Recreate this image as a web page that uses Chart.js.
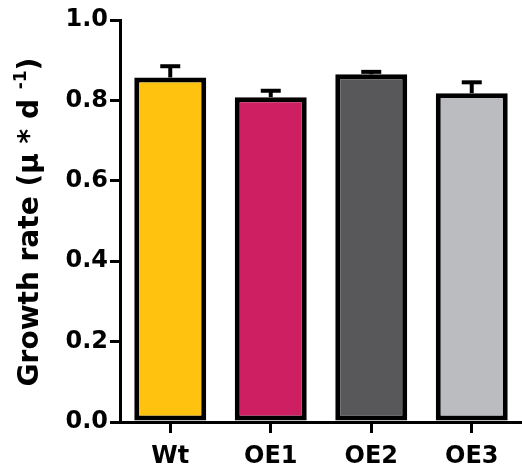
<!DOCTYPE html>
<html>
<head>
<meta charset="utf-8">
<script src="https://cdn.jsdelivr.net/npm/chart.js@4.4.0/dist/chart.umd.min.js"></script>
<style>
  html, body { margin: 0; padding: 0; background: #fff; }
  #wrap { width: 522px; height: 470px; }
</style>
</head>
<body>
<div id="wrap"><canvas id="growthChart"></canvas></div>
<script>
var labels = ['Wt', 'OE1', 'OE2', 'OE3'];
var growthRate = [0.857, 0.808, 0.865, 0.818];
var growthErr = [0.028, 0.016, 0.006, 0.027];
var barColors = ['#FFC20E', '#CE1F63', '#58585A', '#BBBCC0'];
var yTicks = [0, 0.2, 0.4, 0.6, 0.8, 1.0];

var FONT = 'DejaVu Sans';

// error bars (upper only) drawn over the bars
var errorBars = {
    id: 'errorBars',
    afterDatasetsDraw: function(chart) {
        var ctx = chart.ctx;
        var yScale = chart.scales.y;
        var meta = chart.getDatasetMeta(0);
        ctx.save();
        ctx.strokeStyle = '#000';
        ctx.lineCap = 'butt';
        meta.data.forEach(function(bar, i) {
            var yTop = yScale.getPixelForValue(growthRate[i] + growthErr[i]);
            var yBase = yScale.getPixelForValue(growthRate[i]);
            ctx.lineWidth = 4;
            ctx.beginPath();
            ctx.moveTo(bar.x, yBase);
            ctx.lineTo(bar.x, yTop);
            ctx.stroke();
            ctx.lineWidth = 4;
            ctx.beginPath();
            ctx.moveTo(bar.x - 10, yTop);
            ctx.lineTo(bar.x + 10, yTop);
            ctx.stroke();
        });
        ctx.restore();
    }
};

// y title with superscript -1
var yTitle = {
    id: 'yTitle',
    afterDraw: function(chart) {
        var ctx = chart.ctx;
        var main = 'Growth rate (\u03bc * d ';
        var sup = '-1';
        var close = ')';
        ctx.save();
        ctx.fillStyle = '#000';
        ctx.textBaseline = 'alphabetic';
        ctx.font = 'bold 28px ' + FONT;
        var w1 = ctx.measureText(main).width;
        var w3 = ctx.measureText(close).width;
        ctx.font = 'bold 17px ' + FONT;
        var w2 = ctx.measureText(sup).width;
        var total = w1 + w2 + w3;
        ctx.translate(38, 222);
        ctx.rotate(-Math.PI / 2);
        var x = -total / 2;
        ctx.font = 'bold 28px ' + FONT;
        ctx.fillText(main, x, 0);
        x += w1;
        ctx.font = 'bold 17px ' + FONT;
        ctx.fillText(sup, x, -12);
        x += w2;
        ctx.font = 'bold 28px ' + FONT;
        ctx.fillText(close, x, 0);
        ctx.restore();
    }
};

var ctx = document.getElementById('growthChart').getContext('2d');
var chart = new Chart(ctx, {
    type: 'bar',
    data: {
        labels: labels,
        datasets: [{
            data: growthRate,
            backgroundColor: barColors,
            borderColor: '#000',
            borderWidth: 5,
            borderSkipped: false,
            barPercentage: 0.716,
            categoryPercentage: 1.0
        }]
    },
    options: {
        responsive: true,
        maintainAspectRatio: false,
        animation: false,
        layout: { padding: { top: 20, right: 0, left: 0, bottom: 0 } },
        plugins: {
            legend: { display: false },
            tooltip: { enabled: false }
        },
        scales: {
            x: {
                offset: true,
                grid: {
                    offset: false,
                    drawOnChartArea: false,
                    drawTicks: true,
                    tickLength: 11,
                    color: '#000',
                    lineWidth: 3
                },
                border: { color: '#000', width: 3 },
                ticks: {
                    color: '#000',
                    padding: 9,
                    font: { family: FONT, size: 24, weight: 'bold' }
                },
                afterFit: function(scale) { scale.height = 48; }
            },
            y: {
                min: 0,
                max: 1,
                afterBuildTicks: function(scale) {
                    scale.ticks = yTicks.map(function(v) { return { value: v }; });
                },
                grid: {
                    drawOnChartArea: false,
                    drawTicks: true,
                    tickLength: 10,
                    color: '#000',
                    lineWidth: 3
                },
                border: { color: '#000', width: 3 },
                ticks: {
                    color: '#000',
                    padding: 2,
                    font: { family: FONT, size: 24, weight: 'bold' },
                    callback: function(v) { return Number(v).toFixed(1); }
                },
                afterFit: function(scale) { scale.width = 120; }
            }
        }
    },
    plugins: [errorBars, yTitle]
});
</script>
</body>
</html>
